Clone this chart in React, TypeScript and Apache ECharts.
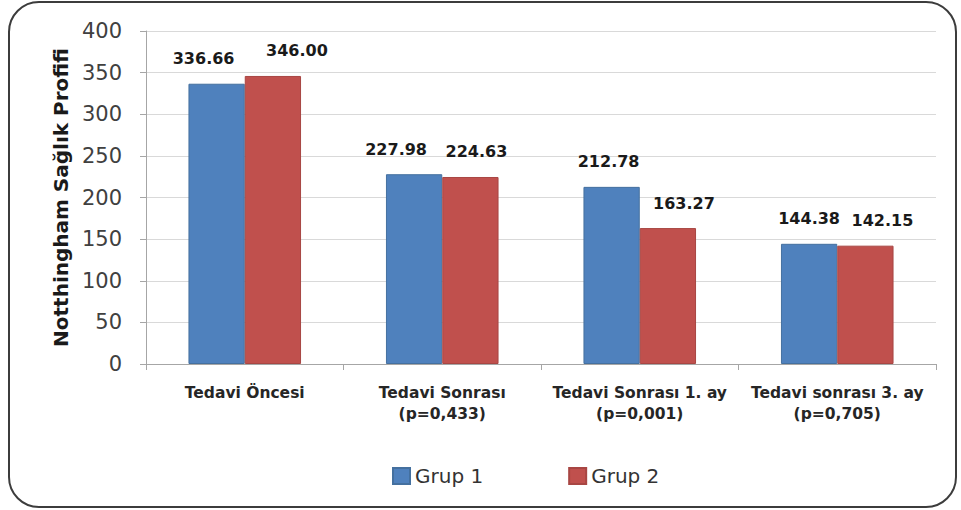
import React, { useEffect, useRef } from "react";
import * as echarts from "echarts";

const categories = [
  "Tedavi Öncesi",
  "Tedavi Sonrası\n(p=0,433)",
  "Tedavi Sonrası 1. ay\n(p=0,001)",
  "Tedavi sonrası 3. ay\n(p=0,705)",
];
const grup1 = [336.66, 227.98, 212.78, 144.38];
const grup2 = [346.0, 224.63, 163.27, 142.15];
const seriesNames = ["Grup 1", "Grup 2"];
const yAxisName = "Notthingham Sağlık Profifi";

// horizontal label nudges (style only)
const grup1LabelDx = [-13, -18, -3, 0];
const grup2LabelDx = [24, 6, 16, 17];

const FONT = "'DejaVu Sans', sans-serif";

export default function App() {
  const ref = useRef<HTMLDivElement>(null);
  useEffect(() => {
    if (!ref.current) return;
    const chart = echarts.init(ref.current, null, { renderer: "svg" });
    const baseLabel = {
      show: true,
      position: "top",
      distance: 17,
      fontFamily: FONT,
      fontWeight: "bold",
      fontSize: 16,
      color: "#1a1a1a",
      formatter: (p: any) => Number(p.value).toFixed(2),
    };
    const mk = (vals: number[], dx: number[]) =>
      vals.map((v, i) => ({ value: v, label: { offset: [dx[i], 0] } }));
    chart.setOption({
      animation: false,
      backgroundColor: "#ffffff",
      graphic: [
        {
          type: "rect",
          shape: { x: 9, y: 2, width: 947, height: 505, r: 30 },
          style: { fill: "none", stroke: "#3c3c3c", lineWidth: 2 },
          z: -1,
        },
      ],
      grid: { left: 146, right: 25, top: 31, bottom: 146, containLabel: false },
      legend: {
        data: seriesNames,
        top: 466,
        left: 392,
        padding: 0,
        itemWidth: 17,
        itemHeight: 16,
        itemGap: 85,
        icon: "rect",
        textStyle: { fontFamily: FONT, fontSize: 20, color: "#333333" },
      },
      xAxis: {
        type: "category",
        data: categories,
        axisLine: { show: true, lineStyle: { color: "#a6a6a6", width: 1 } },
        axisTick: { show: true, alignWithLabel: false, length: 6, lineStyle: { color: "#a6a6a6" } },
        axisLabel: {
          fontFamily: FONT,
          fontWeight: "bold",
          fontSize: 15.5,
          color: "#262626",
          lineHeight: 21,
          margin: 18,
          interval: 0,
        },
      },
      yAxis: {
        type: "value",
        min: 0,
        max: 400,
        interval: 50,
        name: yAxisName,
        nameLocation: "middle",
        nameGap: 74,
        nameRotate: 90,
        nameTextStyle: { fontFamily: FONT, fontWeight: "bold", fontSize: 20, color: "#1a1a1a" },
        axisLine: { show: true, lineStyle: { color: "#a6a6a6", width: 1 } },
        axisTick: { show: true, length: 6, lineStyle: { color: "#a6a6a6" } },
        axisLabel: { fontFamily: FONT, fontSize: 21, color: "#404040", margin: 24 },
        splitLine: { show: true, lineStyle: { color: "#d9d9d9", width: 1 } },
      },
      series: [
        {
          name: seriesNames[0],
          type: "bar",
          data: mk(grup1, grup1LabelDx),
          barGap: "0%",
          barCategoryGap: "43%",
          itemStyle: { color: "#4F81BD", borderColor: "#44709f", borderWidth: 1 },
          label: baseLabel,
        },
        {
          name: seriesNames[1],
          type: "bar",
          data: mk(grup2, grup2LabelDx),
          itemStyle: { color: "#C0504D", borderColor: "#a84643", borderWidth: 1 },
          label: baseLabel,
        },
      ],
    });
    return () => chart.dispose();
  }, []);
  return (
    <div
      ref={ref}
      style={{ position: "absolute", left: 0, top: 0, width: 961, height: 510 }}
    />
  );
}
